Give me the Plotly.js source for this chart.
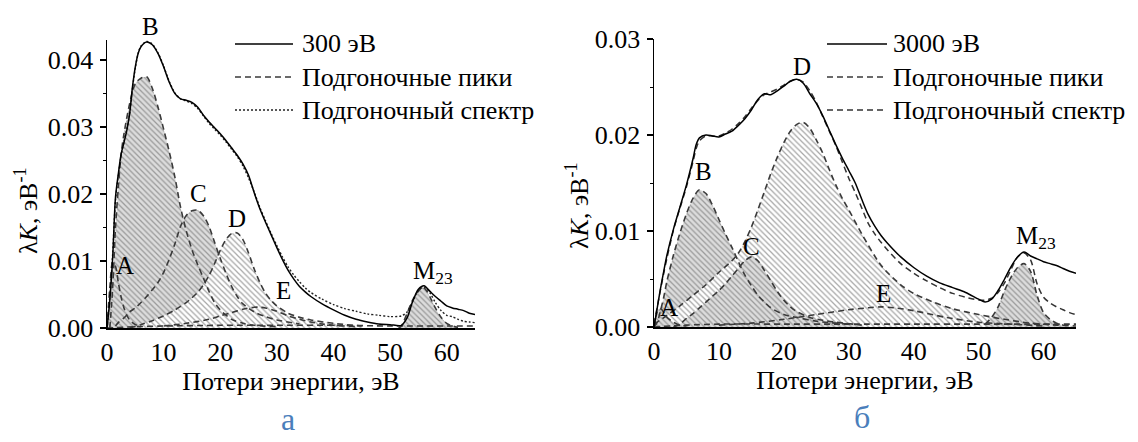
<!DOCTYPE html>
<html><head><meta charset="utf-8">
<script src="https://cdn.plot.ly/plotly-3.0.1.min.js"></script>
<style>html,body{margin:0;padding:0;background:#fff}#chart{width:1138px;height:442px}</style>
</head><body><div id="chart"></div>
<script>
// ===== Panel а : 300 эВ =====
const aExpX = [0,0.5,1,1.5,2,2.5,3,3.5,4,4.5,5,5.5,6,7,8,9,10,11,12,13,14,15,16,17,18,19,20,21,22,23,24,25,26,27,28,29,30,31,32,33,34,35,36,38,40,42,44,46,48,50,52,53,54,55,56,57,58,59,60,61,62,63,64,65];
const aExpY = [0,0.0042,0.0105,0.0195,0.023,0.026,0.0277,0.0295,0.032,0.036,0.039,0.041,0.042,0.0427,0.0423,0.041,0.039,0.0367,0.035,0.0342,0.034,0.0337,0.033,0.0318,0.0308,0.0299,0.029,0.028,0.0269,0.0258,0.0245,0.0228,0.0202,0.0178,0.0158,0.0139,0.012,0.0102,0.0086,0.0073,0.0062,0.0054,0.0047,0.0036,0.0027,0.0019,0.0013,0.0009,0.0006,0.0005,0.0004,0.0015,0.004,0.0058,0.0063,0.0055,0.0047,0.004,0.0033,0.003,0.0028,0.0026,0.0022,0.002];
const aFitX = aExpX.slice();
const aFitY = [0,0.0048,0.011,0.019,0.0228,0.0258,0.0278,0.0297,0.032,0.0358,0.0388,0.041,0.0421,0.0428,0.0424,0.0411,0.0391,0.0368,0.0351,0.0342,0.0339,0.0335,0.0328,0.0317,0.0306,0.0297,0.0288,0.0278,0.0267,0.0256,0.0242,0.0224,0.0203,0.018,0.016,0.0141,0.0123,0.0106,0.0091,0.0079,0.0069,0.006,0.0053,0.0043,0.0035,0.0029,0.0025,0.0021,0.0019,0.0017,0.0018,0.0024,0.004,0.0056,0.0061,0.0053,0.0038,0.0026,0.0019,0.0017,0.0013,0.001,0.0009,0.0008];
const aPkAX = [0,0.5,1,1.5,2,2.5,3,3.5,4,5,6];
const aPkAY = [0,0.006,0.0098,0.0092,0.0068,0.0046,0.003,0.0019,0.0012,0.0005,0.0002];
const aPkBX = [0.5,1,1.5,2,2.5,3,4,5,6,7,8,9,10,11,12,13,14,15,16,17,18,19,20,22,24,26,30];
const aPkBY = [0,0.006,0.015,0.021,0.026,0.029,0.0335,0.0365,0.0373,0.0375,0.0358,0.033,0.0297,0.0263,0.0225,0.018,0.0145,0.0117,0.0095,0.0075,0.0055,0.0038,0.0027,0.0013,0.0007,0.0004,0.0002];
const aPkCX = [1.5,2,3,4,5,6,7,8,9,10,11,12,13,14,15,16,17,18,19,20,21,22,23,24,26,28,30,34];
const aPkCY = [0.0003,0.0008,0.0015,0.0024,0.003,0.0038,0.0047,0.0057,0.0068,0.0083,0.0103,0.0126,0.0152,0.0168,0.0175,0.0176,0.0168,0.0152,0.0128,0.0104,0.0082,0.0062,0.0047,0.0036,0.0024,0.0017,0.0012,0.0006];
const aPkDX = [4,6,8,10,12,14,15,16,17,18,19,20,21,22,23,24,25,26,27,28,29,30,32,34,36,40,45];
const aPkDY = [0,0.0005,0.0011,0.0018,0.0027,0.0038,0.0045,0.0053,0.0064,0.0078,0.0096,0.0116,0.0132,0.0141,0.0142,0.0132,0.0112,0.0088,0.0068,0.0052,0.0041,0.0033,0.0022,0.0016,0.0012,0.0007,0.0003];
const aPkEX = [10,14,18,20,22,24,26,27,28,30,32,34,36,38,40,44];
const aPkEY = [0.0003,0.0007,0.0013,0.0018,0.0023,0.0028,0.0031,0.0031,0.003,0.0025,0.0018,0.0013,0.0009,0.0006,0.0004,0.0002];
const aPkMX = [51.5,52,53,54,55,55.8,56.5,57.3,58,59,60,61,62];
const aPkMY = [0,0.0003,0.0022,0.0042,0.0055,0.0061,0.0055,0.0042,0.003,0.0016,0.0007,0.0003,0.0001];
const aBgX = [0,5,10,20,30,40,50,60,65];
const aBgY = [0,0.0002,0.0003,0.0004,0.0004,0.0004,0.0003,0.0003,0.0003];

// ===== Panel б : 3000 эВ =====
const bExpX = [0,0.5,1,1.5,2,3,4,5,6,6.5,7,8,9,10,11,12,13,14,15,16,17,18,19,20,21,22,23,24,25,26,27,28,29,30,31,32,33,34,35,36,38,40,42,44,46,48,50,51,52,53,54,55,56,57,58,59,60,61,62,63,64,65];
const bExpY = [0,0.002,0.004,0.0058,0.0075,0.0102,0.0125,0.0148,0.0175,0.019,0.0197,0.02,0.0199,0.0198,0.0201,0.0204,0.021,0.0217,0.0226,0.0237,0.0243,0.0242,0.0246,0.0251,0.0256,0.0258,0.0254,0.0243,0.0233,0.022,0.0205,0.019,0.0176,0.0163,0.015,0.0133,0.0117,0.0105,0.0095,0.0087,0.0073,0.0062,0.0053,0.0046,0.0041,0.0036,0.0029,0.0026,0.0029,0.0038,0.005,0.0063,0.0073,0.0078,0.0074,0.0071,0.0068,0.0066,0.0064,0.0061,0.0058,0.0056];
const bFitX = bExpX.slice();
const bFitY = [0.0003,0.0021,0.0039,0.0056,0.0072,0.0101,0.0124,0.0146,0.0172,0.0186,0.0194,0.0199,0.0199,0.0199,0.0202,0.0206,0.0212,0.0219,0.0228,0.0236,0.0242,0.0245,0.0248,0.0252,0.0256,0.0258,0.0255,0.0246,0.0234,0.0219,0.0204,0.0189,0.0172,0.0155,0.014,0.0124,0.0108,0.0097,0.0088,0.008,0.0066,0.0056,0.0048,0.0041,0.0035,0.0031,0.0028,0.0028,0.003,0.0036,0.0046,0.006,0.0073,0.0077,0.007,0.0045,0.0031,0.0025,0.0021,0.0018,0.0015,0.0013];
const bPkAX = [0,0.4,0.8,1.2,1.6,2,3,4,5];
const bPkAY = [0,0.0014,0.0019,0.0018,0.0014,0.001,0.0005,0.0002,0.0001];
const bPkBX = [0,0.5,1,1.5,2,3,4,5,6,7,8,9,10,11,12,13,14,15,16,17,18,20,22,25,30];
const bPkBY = [0,0.0005,0.0017,0.0031,0.0048,0.0075,0.0098,0.0118,0.0134,0.0143,0.0139,0.0127,0.0112,0.0097,0.0083,0.0068,0.0054,0.0043,0.0033,0.0026,0.002,0.0013,0.001,0.0006,0.0003];
const bPkCX = [3,4,5,6,7,8,9,10,11,12,13,14,15,16,17,18,19,20,21,22,24,26,28,32];
const bPkCY = [0,0.0003,0.0009,0.0014,0.002,0.0026,0.0032,0.0038,0.0045,0.0053,0.0061,0.0069,0.0073,0.0069,0.0059,0.0048,0.0037,0.0028,0.0021,0.0016,0.001,0.0007,0.0005,0.0002];
const bPkDX = [0,2,4,6,8,10,12,13,14,15,16,17,18,19,20,21,22,23,24,25,26,27,28,29,30,32,35,38,40,43,46,50,54,58,62,65];
const bPkDY = [0.0003,0.0012,0.0022,0.0033,0.0044,0.0057,0.0069,0.0077,0.0089,0.0104,0.0122,0.0141,0.016,0.0177,0.0192,0.0204,0.0211,0.0213,0.0207,0.0195,0.0181,0.0164,0.0148,0.0134,0.0122,0.0097,0.0064,0.0044,0.0035,0.0026,0.0019,0.0013,0.0008,0.0004,0.0002,0.0001];
const bPkEX = [10,15,20,25,30,33,35,37,40,45,50,55,60];
const bPkEY = [0.0002,0.0004,0.0008,0.0013,0.0018,0.002,0.0021,0.002,0.0017,0.001,0.0005,0.0003,0.0001];
const bPkMX = [51,52,53,54,55,56,57,58,59,60,61,62,63];
const bPkMY = [0.0003,0.001,0.0021,0.0038,0.0052,0.0062,0.0066,0.0058,0.0033,0.0015,0.0008,0.0004,0.0002];
const bBgX = [0,5,10,20,30,40,50,60,65];
const bBgY = [0,0.0002,0.0003,0.0003,0.0003,0.0003,0.0003,0.0003,0.0003];

// ===== text =====
const legendA = ['300 эВ', 'Подгоночные пики', 'Подгоночный спектр'];
const legendB = ['3000 эВ', 'Подгоночные пики', 'Подгоночный спектр'];
const xTitle = 'Потери энергии, эВ';
const yTitle = 'λ<i>K</i>, эВ<sup>-1</sup>';
// peak labels: [text, x-pixel, y-pixel]
const aLabels = [['B',150,26],['C',198,193],['D',237,218],['A',125,265],['E',283,290],['M<sub>23</sub>',433,272]];
const bLabels = [['D',802,66],['B',703,172],['C',751,246],['A',669,307],['E',883,293],['M<sub>23</sub>',1036,237]];

const FONT = "'Liberation Serif', 'Times New Roman', Times, serif";
const DASH = '6px,4px';
const grayPat = {shape:'\\', bgcolor:'#dcdcdc', fgcolor:'#9a9a9a', size:4, solidity:0.32};
const lightPat = {shape:'\\', bgcolor:'#ffffff', fgcolor:'#a6a6a6', size:4, solidity:0.3};

function fillTrace(x, y, pat, xa, ya){
  return {type:'scatter', mode:'lines', x:x, y:y, xaxis:xa, yaxis:ya, fill:'tozeroy',
    fillcolor:pat.bgcolor, fillpattern:pat, line:{width:0, shape:'spline', smoothing:0.8},
    hoverinfo:'skip', showlegend:false};
}
function lineTrace(x, y, xa, ya, dash, color, w){
  return {type:'scatter', mode:'lines', x:x, y:y, xaxis:xa, yaxis:ya,
    line:{width:w||1.6, color:color||'#3a3a3a', dash:dash||DASH, shape:'spline', smoothing:0.8},
    hoverinfo:'skip', showlegend:false};
}

const traces = [
  fillTrace(aPkBX, aPkBY, grayPat, 'x', 'y'),
  fillTrace(aPkCX, aPkCY, grayPat, 'x', 'y'),
  fillTrace(aPkEX, aPkEY, lightPat, 'x', 'y'),
  fillTrace(aPkDX, aPkDY, lightPat, 'x', 'y'),
  fillTrace(aPkAX, aPkAY, grayPat, 'x', 'y'),
  fillTrace(aPkMX, aPkMY, grayPat, 'x', 'y'),
  lineTrace(aBgX, aBgY, 'x', 'y'),
  lineTrace(aPkAX, aPkAY, 'x', 'y'),
  lineTrace(aPkBX, aPkBY, 'x', 'y'),
  lineTrace(aPkCX, aPkCY, 'x', 'y'),
  lineTrace(aPkDX, aPkDY, 'x', 'y'),
  lineTrace(aPkEX, aPkEY, 'x', 'y'),
  lineTrace(aPkMX, aPkMY, 'x', 'y'),
  lineTrace(aFitX, aFitY, 'x', 'y', '2px,2px', '#222', 1.4),
  lineTrace(aExpX, aExpY, 'x', 'y', 'solid', '#000', 1.5),
  fillTrace(bPkBX, bPkBY, grayPat, 'x2', 'y2'),
  fillTrace(bPkDX, bPkDY, lightPat, 'x2', 'y2'),
  fillTrace(bPkEX, bPkEY, lightPat, 'x2', 'y2'),
  fillTrace(bPkCX, bPkCY, grayPat, 'x2', 'y2'),
  fillTrace(bPkAX, bPkAY, grayPat, 'x2', 'y2'),
  fillTrace(bPkMX, bPkMY, grayPat, 'x2', 'y2'),
  lineTrace(bBgX, bBgY, 'x2', 'y2'),
  lineTrace(bPkAX, bPkAY, 'x2', 'y2'),
  lineTrace(bPkBX, bPkBY, 'x2', 'y2'),
  lineTrace(bPkCX, bPkCY, 'x2', 'y2'),
  lineTrace(bPkDX, bPkDY, 'x2', 'y2'),
  lineTrace(bPkEX, bPkEY, 'x2', 'y2'),
  lineTrace(bPkMX, bPkMY, 'x2', 'y2'),
  lineTrace(bFitX, bFitY, 'x2', 'y2', DASH, '#333', 1.5),
  lineTrace(bExpX, bExpY, 'x2', 'y2', 'solid', '#000', 1.5)
];

const W = 1138, H = 442;
const px = v => v / W, py = v => 1 - v / H;
const tickFont = {family:FONT, size:26, color:'#000'};

function xAxis(dom, anchor){
  return {domain:dom, anchor:anchor, range:[0,65], dtick:10, tick0:0, showline:true, linecolor:'#000', linewidth:1.5,
    ticks:'', showgrid:false, zeroline:false, tickfont:tickFont, ticklabelstandoff:0,
    title:{text:xTitle, font:tickFont, standoff:2}};
}
function yAxis(dom, anchor, top){
  return {domain:dom, anchor:anchor, range:[0,top], dtick:0.01, tick0:0, tickformat:'.2f',
    showline:true, linecolor:'#000', linewidth:1.5, ticks:'outside', ticklen:6, tickwidth:1.2, tickcolor:'#000',
    minor:{dtick:0.005, ticks:'outside', ticklen:3, tickwidth:1, tickcolor:'#000', showgrid:false},
    showgrid:false, zeroline:false, tickfont:tickFont, ticklabelstandoff:1};
}

const annotations = [];
const shapes = [];
const labFont = {family:FONT, size:25, color:'#000'};
aLabels.concat(bLabels).forEach(l => annotations.push({text:l[0], x:px(l[1]), y:py(l[2]), xref:'paper', yref:'paper', showarrow:false, xanchor:'center', yanchor:'middle', font:labFont}));

annotations.push({text:yTitle, xref:'paper', yref:'paper', x:px(26), y:py(211), textangle:-90, showarrow:false, xanchor:'center', yanchor:'middle', font:tickFont});
annotations.push({text:yTitle, xref:'paper', yref:'paper', x:px(577), y:py(205), textangle:-90, showarrow:false, xanchor:'center', yanchor:'middle', font:tickFont});

const rowsY = [44, 77, 110];
const styleA = [['solid','#000',1.5],[DASH,'#3a3a3a',1.6],['2px,2px','#222',1.4]];
const styleB = [['solid','#000',1.5],[DASH,'#3a3a3a',1.6],[DASH,'#333',1.5]];
function addLegend(labels, styles, x0, x1, tx){
  labels.forEach((t, i) => {
    shapes.push({type:'line', xref:'paper', yref:'paper', x0:px(x0), x1:px(x1), y0:py(rowsY[i]), y1:py(rowsY[i]),
      line:{color:styles[i][1], width:styles[i][2], dash:styles[i][0]}});
    annotations.push({text:t, xref:'paper', yref:'paper', x:px(tx), y:py(rowsY[i]), showarrow:false, xanchor:'left', yanchor:'middle', font:tickFont});
  });
}
addLegend(legendA, styleA, 235, 293, 300);
addLegend(legendB, styleB, 827, 887, 891);

annotations.push({text:'а', xref:'paper', yref:'paper', x:px(288), y:py(419), showarrow:false, xanchor:'center', yanchor:'middle', font:{family:FONT, size:32, color:'#4a7ebb'}});
annotations.push({text:'б', xref:'paper', yref:'paper', x:px(862), y:py(417), showarrow:false, xanchor:'center', yanchor:'middle', font:{family:FONT, size:32, color:'#4a7ebb'}});

const layout = {
  width:W, height:H, margin:{l:0, r:0, t:0, b:0}, paper_bgcolor:'#fff', plot_bgcolor:'#fff',
  showlegend:false, font:{family:FONT, color:'#000'},
  xaxis: xAxis([px(107), px(475)], 'y'),
  yaxis: yAxis([py(328), py(40)], 'x', 0.043),
  xaxis2: xAxis([px(654), px(1076)], 'y2'),
  yaxis2: yAxis([py(327), py(39)], 'x2', 0.03),
  annotations: annotations, shapes: shapes
};

Plotly.newPlot('chart', traces, layout, {staticPlot:true, displayModeBar:false});
</script>
</body></html>
